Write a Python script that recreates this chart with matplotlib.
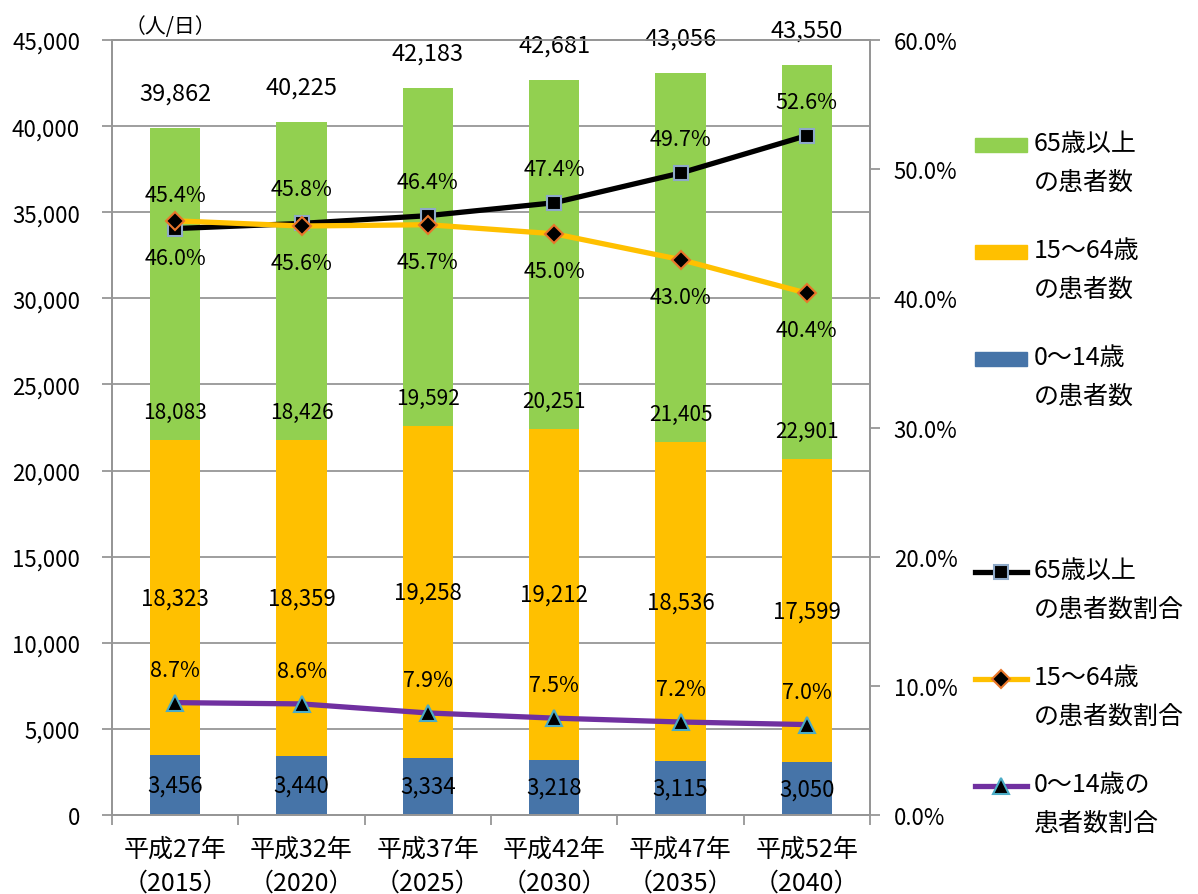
import matplotlib
matplotlib.use('Agg')
import matplotlib.pyplot as plt
import matplotlib.transforms as mtransforms
from matplotlib.patches import Patch
from matplotlib.lines import Line2D
from matplotlib.legend_handler import HandlerPatch, HandlerLine2D
import numpy as np

plt.rcParams['font.family'] = ['Noto Sans CJK JP', 'DejaVu Sans']

# data
categories = ['平成27年\n（2015）', '平成32年\n（2020）', '平成37年\n（2025）',
              '平成42年\n（2030）', '平成47年\n（2035）', '平成52年\n（2040）']
child = [3456, 3440, 3334, 3218, 3115, 3050]
working = [18323, 18359, 19258, 19212, 18536, 17599]
elderly = [18083, 18426, 19592, 20251, 21405, 22901]
totals = [39862, 40225, 42183, 42681, 43056, 43550]
pct_elderly = [45.4, 45.8, 46.4, 47.4, 49.7, 52.6]
pct_working = [46.0, 45.6, 45.7, 45.0, 43.0, 40.4]
pct_child = [8.7, 8.6, 7.9, 7.5, 7.2, 7.0]

GREEN = '#92D050'
ORANGE = '#FFC000'
BLUE = '#4674A8'
GRID = '#969696'

RAISE = 13.3  # points, lifts legend handle to the first text line


class RaisedPatch(HandlerPatch):
    def create_artists(self, legend, orig_handle, xdescent, ydescent, width, height, fontsize, trans):
        t = mtransforms.Affine2D().translate(0, RAISE) + trans
        return super().create_artists(legend, orig_handle, xdescent, ydescent, width, height, fontsize, t)


class RaisedLine(HandlerLine2D):
    def create_artists(self, legend, orig_handle, xdescent, ydescent, width, height, fontsize, trans):
        t = mtransforms.Affine2D().translate(0, RAISE) + trans
        return super().create_artists(legend, orig_handle, xdescent, ydescent, width, height, fontsize, t)


fig = plt.figure(figsize=(11.98, 8.95), dpi=100)
ax = fig.add_axes([112 / 1198, 79 / 895, 758 / 1198, 775 / 895])
ax2 = ax.twinx()

x = np.arange(len(categories))
w = 0.4
child = np.array(child)
working = np.array(working)
elderly = np.array(elderly)

ax.bar(x, child, w, color=BLUE, zorder=2)
ax.bar(x, working, w, bottom=child, color=ORANGE, zorder=2)
ax.bar(x, elderly, w, bottom=child + working, color=GREEN, zorder=2)

ax.set_xlim(-0.5, 5.5)
ax.set_ylim(0, 45000)
ax.set_yticks(np.arange(0, 45001, 5000))
ax.set_yticklabels([f'{v:,}' for v in range(0, 45001, 5000)])
ax.grid(axis='y', color=GRID, linewidth=1.3, zorder=0)
ax.set_axisbelow(True)
ax.set_xticks(np.arange(-0.5, 6, 1))
ax.set_xticklabels([])
ax.set_xticks(x, categories, minor=True)
ax.tick_params(axis='x', which='major', direction='out', length=7, width=1.3, color=GRID)
ax.tick_params(axis='x', which='minor', length=0, pad=15, labelsize=18)
for t in ax.get_xticklabels(minor=True):
    t.set_linespacing(1.4)
ax.tick_params(axis='y', direction='out', length=7, width=1.3, color=GRID, pad=16, labelsize=16)

for sp in ax.spines.values():
    sp.set_color(GRID)
    sp.set_linewidth(1.3)
for sp in ax2.spines.values():
    sp.set_color(GRID)
    sp.set_linewidth(1.3)

ax.text(0.017, 1.004, '（人/日）', transform=ax.transAxes, ha='left', va='bottom', fontsize=15)

# bar labels
for i in range(len(x)):
    ax.annotate(f'{child[i]:,}', (x[i], child[i] / 2), ha='center', va='center', fontsize=16, zorder=5)
    ax.annotate(f'{working[i]:,}', (x[i], child[i] + working[i] / 2), ha='center', va='center',
                fontsize=16, zorder=5)
    ax.annotate(f'{elderly[i]:,}', (x[i], child[i] + working[i]), xytext=(0, 28),
                textcoords='offset pixels', ha='center', va='center', fontsize=15, zorder=5)
    ax.annotate(f'{totals[i]:,}', (x[i], totals[i]), xytext=(0, 35), textcoords='offset pixels',
                ha='center', va='center', fontsize=17, zorder=5)

# ratio lines
ax2.set_ylim(0, 60)
ax2.set_yticks(np.arange(0, 61, 10))
ax2.set_yticklabels([f'{v:.1f}%' for v in range(0, 61, 10)])
ax2.tick_params(axis='y', direction='out', length=7, width=1.3, color=GRID, pad=10, labelsize=16)

l1, = ax2.plot(x, pct_elderly, color='black', lw=3.8, marker='s', ms=10,
               mfc='black', mec='#8EA9C8', mew=1.5, zorder=4)
l2, = ax2.plot(x, pct_working, color=ORANGE, lw=3.8, marker='D', ms=9,
               mfc='black', mec='#E9762B', mew=1.5, zorder=4)
l3, = ax2.plot(x, pct_child, color='#7030A0', lw=3.8, marker='^', ms=11,
               mfc='black', mec='#4BACC6', mew=1.5, zorder=4)

for i in range(len(x)):
    ax2.annotate(f'{pct_elderly[i]:.1f}%', (x[i], pct_elderly[i]), xytext=(0, 34),
                 textcoords='offset pixels', ha='center', va='center', fontsize=15.5)
    ax2.annotate(f'{pct_working[i]:.1f}%', (x[i], pct_working[i]), xytext=(0, -37),
                 textcoords='offset pixels', ha='center', va='center', fontsize=15.5)
    ax2.annotate(f'{pct_child[i]:.1f}%', (x[i], pct_child[i]), xytext=(0, 33),
                 textcoords='offset pixels', ha='center', va='center', fontsize=15.5)

# legends
bar_handles = [Patch(color=GREEN), Patch(color=ORANGE), Patch(color=BLUE)]
bar_labels = ['65歳以上\nの患者数', '15～64歳\nの患者数', '0～14歳\nの患者数']
leg1 = fig.legend(bar_handles, bar_labels, loc='upper left', bbox_to_anchor=(975 / 1198, 1 - 131 / 895),
                  frameon=False, fontsize=18, handlelength=2.08, handleheight=0.48,
                  handletextpad=0.28, labelspacing=1.68, borderpad=0, borderaxespad=0,
                  handler_map={Patch: RaisedPatch()})
for t in leg1.get_texts():
    t.set_linespacing(1.65)

line_labels = ['65歳以上\nの患者数割合', '15～64歳\nの患者数割合', '0～14歳の\n患者数割合']
leg2 = fig.legend([l1, l2, l3], line_labels, loc='upper left', bbox_to_anchor=(975 / 1198, 1 - 558 / 895),
                  frameon=False, fontsize=18, handlelength=2.08, handletextpad=0.28,
                  labelspacing=1.68, borderpad=0, borderaxespad=0,
                  handler_map={Line2D: RaisedLine()})
for t in leg2.get_texts():
    t.set_linespacing(1.65)

fig.savefig('out.png', dpi=100)
